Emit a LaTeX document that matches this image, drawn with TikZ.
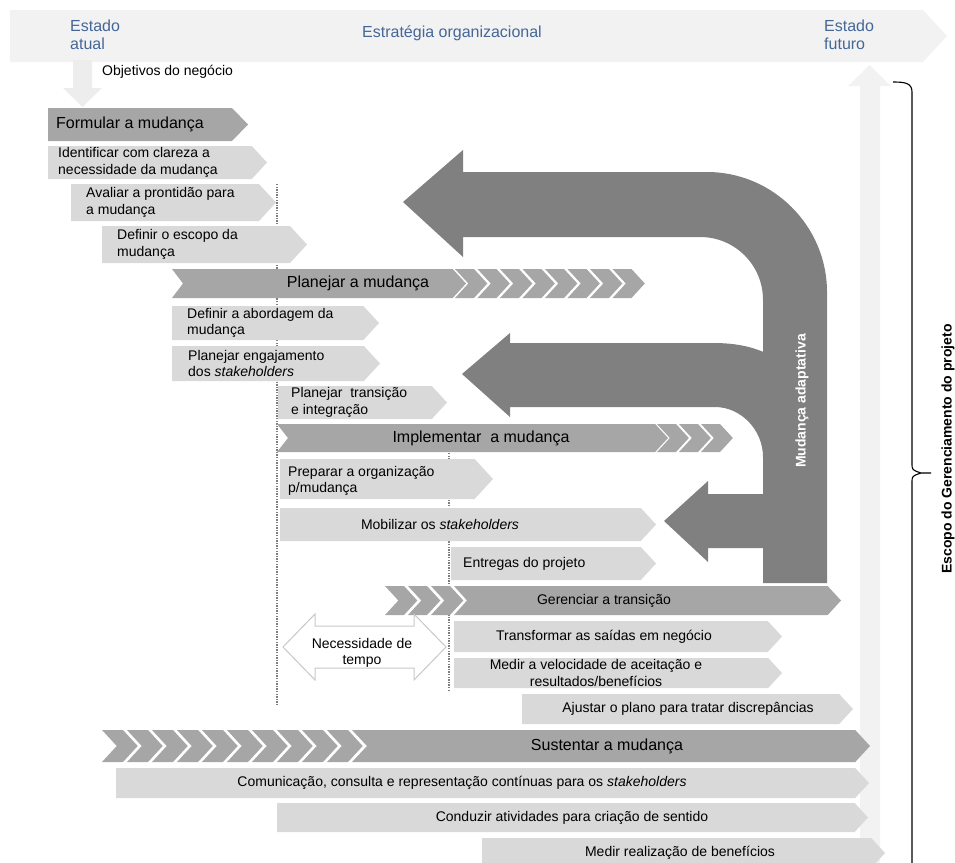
\documentclass[tikz,border=0pt]{standalone}
\usepackage{fontspec}
\setmainfont{Liberation Sans}
\definecolor{band}{RGB}{242,242,242}
\definecolor{flow}{RGB}{237,237,237}
\definecolor{phase}{RGB}{166,166,166}
\definecolor{task}{RGB}{217,217,217}
\definecolor{loopgray}{RGB}{128,128,128}
\definecolor{bandtext}{RGB}{68,103,152}
\definecolor{guide}{RGB}{125,125,125}
\definecolor{outline}{RGB}{200,200,200}

% task box: fill, left, top, tip x, bottom
\newcommand\taskbox[5]{\fill[#1] (#2,#3) -- ({#4-0.46*(#5-#3)},#3) -- (#4,{(#3+#5)/2}) -- ({#4-0.46*(#5-#3)},#5) -- (#2,#5) -- cycle;}
% phase bar with notched tail: left, top, tip x, bottom, notch depth
\newcommand\phasebar[5]{\fill[phase] (#1,#2) -- ({#3-0.46*(#4-#2)},#2) -- (#3,{(#2+#4)/2}) -- ({#3-0.46*(#4-#2)},#4) -- (#1,#4) -- ({#1+#5},{(#2+#4)/2}) -- cycle;}
% run of chevrons: first left x, pitch, count, top, bottom, band width
\newcommand\chevrons[6]{\foreach \cv in {1,...,#3}{%
  \fill[phase] ({#1+(\cv-1)*#2},#4) -- ({#1+(\cv-1)*#2+#6},#4)
    -- ({#1+(\cv-1)*#2+#6+0.46*(#5-#4)},{(#4+#5)/2})
    -- ({#1+(\cv-1)*#2+#6},#5) -- ({#1+(\cv-1)*#2},#5)
    -- ({#1+(\cv-1)*#2+0.46*(#5-#4)},{(#4+#5)/2}) -- cycle;}}

\begin{document}
\begin{tikzpicture}[x=1pt,y=-1pt,
  tasktext/.style={inner sep=0pt, align=left, font=\fontsize{14}{16.5}\selectfont},
  phasetext/.style={inner sep=0pt, font=\fontsize{16}{19}\selectfont},
  bandlabel/.style={inner sep=0pt, align=left, text=bandtext, font=\fontsize{16}{19}\selectfont},
  guideline/.style={guide, line width=1.3pt, dash pattern=on 1.3pt off 1.3pt},
  sidelabel/.style={inner sep=0pt, rotate=90, font=\fontsize{14}{16}\selectfont\bfseries}]
\useasboundingbox (0,0) rectangle (955,862);

% strategy band and the flows in and out of it
\fill[band] (10,10) -- (923,10) -- (947,36) -- (923,62) -- (10,62) -- cycle;
\fill[flow] (73,60) -- (92,60) -- (92,88) -- (102,88) -- (82.5,107) -- (63,88) -- (73,88) -- cycle;
\fill[band] (860,875) -- (860,86) -- (848,86) -- (869.5,65) -- (891,86) -- (880,86) -- (880,875) -- cycle;

\node[bandlabel, anchor=west] (atual) at (70,34.5) {Estado\\[-1pt]atual};
\node[bandlabel] (estrategia) at (452,33.5) {Estratégia organizacional};
\node[bandlabel, anchor=west] (futuro) at (824,34.5) {Estado\\[-1pt]futuro};
\node[tasktext, anchor=west] (objetivos) at (102,72) {Objetivos do negócio};

% time guides
\draw[guideline] (277,184) -- (277,706);
\draw[guideline] (449,453) -- (449,690);

% adaptive change loop
\fill[loopgray] (403,202) -- (463,150) -- (463,172) -- (707,172)
  .. controls (773,172) and (827,226) .. (827,292) -- (827,583) -- (763,583)
  -- (763,300) .. controls (763,265) and (735,237) .. (700,237)
  -- (463,237) -- (463,257) -- cycle;
\fill[loopgray] (462,374) -- (510,333) -- (510,343) -- (713,343)
  .. controls (737,343) and (754,347) .. (770,355) -- (770,470) -- (763,470)
  -- (763,457) .. controls (763,430) and (741,407) .. (715,407)
  -- (510,407) -- (510,417) -- cycle;
\fill[loopgray] (664,521) -- (708,481) -- (708,494) -- (770,494) -- (770,548)
  -- (708,548) -- (708,562) -- cycle;
\node[sidelabel, text=white] (adaptativa) at (802,401) {Mudança adaptativa};

% formulate
\fill[phase] (48,108) -- (232,108) -- (248,124.5) -- (232,141) -- (48,141) -- cycle;
\node[phasetext, anchor=west] (formular) at (56,124.5) {Formular a mudança};
\taskbox{task}{48}{146}{267}{179}
\node[tasktext, anchor=west] (identificar) at (58,162.5) {Identificar com clareza a\\necessidade da mudança};
\taskbox{task}{71}{184}{276}{221}
\node[tasktext, anchor=west] (avaliar) at (86,202.5) {Avaliar a prontidão para\\a mudança};
\taskbox{task}{102}{226}{307}{263}
\node[tasktext, anchor=west] (escopo) at (117,244.5) {Definir o escopo da\\mudança};

% plan
\phasebar{172}{269}{466}{298}{11}
\chevrons{455}{22.5}{8}{269}{298}{19}
\node[phasetext] (planejar) at (358,283.5) {Planejar a mudança};
\taskbox{task}{172}{306}{379}{340}
\node[tasktext, anchor=west] (abordagem) at (187,323) {Definir a abordagem da\\mudança};
\taskbox{task}{172}{346}{380}{381}
\node[tasktext, anchor=west] (engajamento) at (188,363.5) {Planejar engajamento\\dos \textit{stakeholders}};
\taskbox{task}{278}{386}{447}{419}
\node[tasktext, anchor=west] (transicao) at (291,402.5) {Planejar\ \ transição\\e integração};

% implement
\phasebar{277}{424}{668}{452}{11}
\chevrons{657}{22}{3}{424}{452}{19}
\node[phasetext] (implementar) at (481,438) {Implementar\ \ a mudança};
\taskbox{task}{280}{459}{493}{499}
\node[tasktext, anchor=west] (preparar) at (288,481) {Preparar a organização\\p/mudança};
\taskbox{task}{280}{508}{656}{541}
\node[tasktext] (mobilizar) at (440,524.5) {Mobilizar os \textit{stakeholders}};
\taskbox{task}{451}{547}{656}{580}
\node[tasktext, anchor=west] (entregas) at (463,563.5) {Entregas do projeto};

% manage the transition
\chevrons{385}{23}{3}{586}{615}{19}
\phasebar{454}{586}{841}{615}{13}
\node[tasktext] (gerenciar) at (604,600.5) {Gerenciar a transição};
\filldraw[fill=white, draw=outline, line width=1pt] (283,647) -- (315,614) -- (315,626)
  -- (414,626) -- (414,614) -- (446,647) -- (414,680) -- (414,668) -- (315,668)
  -- (315,680) -- cycle;
\node[tasktext, align=center] (tempo) at (362,653) {Necessidade de\\tempo};
\taskbox{task}{454}{621}{782}{652}
\node[tasktext] (transformar) at (604,636.5) {Transformar as saídas em negócio};
\taskbox{task}{454}{658}{782}{688}
\node[tasktext, align=center] (velocidade) at (596,673) {Medir a velocidade de aceitação e\\resultados/benefícios};
\taskbox{task}{522}{694}{853}{724}
\node[tasktext] (ajustar) at (688,709) {Ajustar o plano para tratar discrepâncias};

% sustain
\chevrons{102}{25}{10}{730}{762}{21}
\phasebar{352}{730}{870}{762}{15}
\node[phasetext] (sustentar) at (607,746) {Sustentar a mudança};
\taskbox{task}{116}{768}{869}{798}
\node[tasktext] (comunicacao) at (462,783) {Comunicação, consulta e representação contínuas para os \textit{stakeholders}};
\taskbox{task}{277}{803}{868}{832}
\node[tasktext] (conduzir) at (572,817.5) {Conduzir atividades para criação de sentido};
\taskbox{task}{482}{838}{885}{868}
\node[tasktext] (realizacao) at (680,852.5) {Medir realização de benefícios};

% project management scope
\draw[line width=1.1pt] (893,82) .. controls (905,82) and (912,83) .. (912,92)
  -- (912,463) .. controls (912,470) .. (921,473) -- (931,473)
  (921,473) .. controls (912,476) .. (912,483) -- (912,870);
\node[sidelabel] (escopo-projeto) at (948,449) {Escopo do Gerenciamento do projeto};
\end{tikzpicture}
\end{document}
